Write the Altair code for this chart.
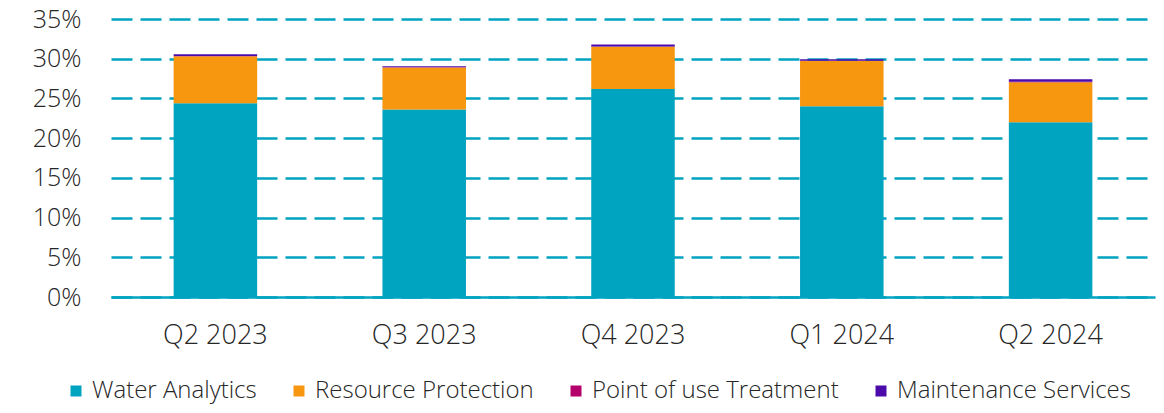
import altair as alt
import pandas as pd

quarters = ["Q2 2023", "Q3 2023", "Q4 2023", "Q1 2024", "Q2 2024"]
segments = ["Water Analytics", "Resource Protection", "Point of use Treatment", "Maintenance Services"]
water_analytics = [24.4, 23.6, 26.2, 24.0, 22.0]
resource_protection = [5.9, 5.3, 5.3, 5.7, 5.05]
point_of_use = [0.05, 0.03, 0.03, 0.05, 0.05]
maintenance = [0.2, 0.12, 0.25, 0.18, 0.3]
colors = ["#00A3C0", "#F7970F", "#B4006B", "#4B0BAA"]
y_ticks = [0, 0.05, 0.10, 0.15, 0.20, 0.25, 0.30, 0.35]

rows = []
for si, (seg, vals) in enumerate(zip(segments, [water_analytics, resource_protection, point_of_use, maintenance])):
    for q, v in zip(quarters, vals):
        rows.append({"quarter": q, "segment": seg, "pct": v / 100, "order": si})
df = pd.DataFrame(rows)

FONT = "Open Sans"
TEXT = "#262626"
TEAL = "#00A3C0"

chart = alt.Chart(df).mark_bar().encode(
    x=alt.X("quarter:N", sort=quarters,
            scale=alt.Scale(paddingInner=0.6, paddingOuter=0.3),
            axis=alt.Axis(title=None, labelAngle=0, ticks=False, domain=True,
                          domainColor=TEAL, domainWidth=2.5, labelPadding=25,
                          labelFontSize=27, labelFont=FONT, labelFontWeight=300,
                          labelColor=TEXT, grid=False)),
    y=alt.Y("pct:Q", stack="zero",
            scale=alt.Scale(domain=[0, 0.35], nice=False),
            axis=alt.Axis(title=None, values=y_ticks, format=".0%", domain=False, ticks=False,
                          labelPadding=30, labelFontSize=25, labelFont=FONT,
                          labelFontWeight=300, labelColor=TEXT,
                          grid=True, gridColor=TEAL, gridWidth=2.5, gridDash=[21, 8])),
    color=alt.Color("segment:N", sort=segments,
                    scale=alt.Scale(domain=segments, range=colors),
                    legend=alt.Legend(title=None, orient="none", direction="horizontal",
                                      legendX=-47, legendY=360,
                                      symbolType="square", symbolSize=121, symbolStrokeWidth=0,
                                      labelFontSize=24, labelFont=FONT, labelFontWeight=300,
                                      labelColor=TEXT, columnPadding=30, labelOffset=4,
                                      labelLimit=400, padding=0)),
    order=alt.Order("order:Q", sort="ascending"),
).properties(
    width=1044, height=278,
    padding={"left": 103, "top": 11, "right": 1, "bottom": 108},
    autosize=alt.AutoSizeParams(type="none"),
).configure_view(stroke=None)

chart.save("out.html", embed_options={"renderer": "svg", "actions": False})
